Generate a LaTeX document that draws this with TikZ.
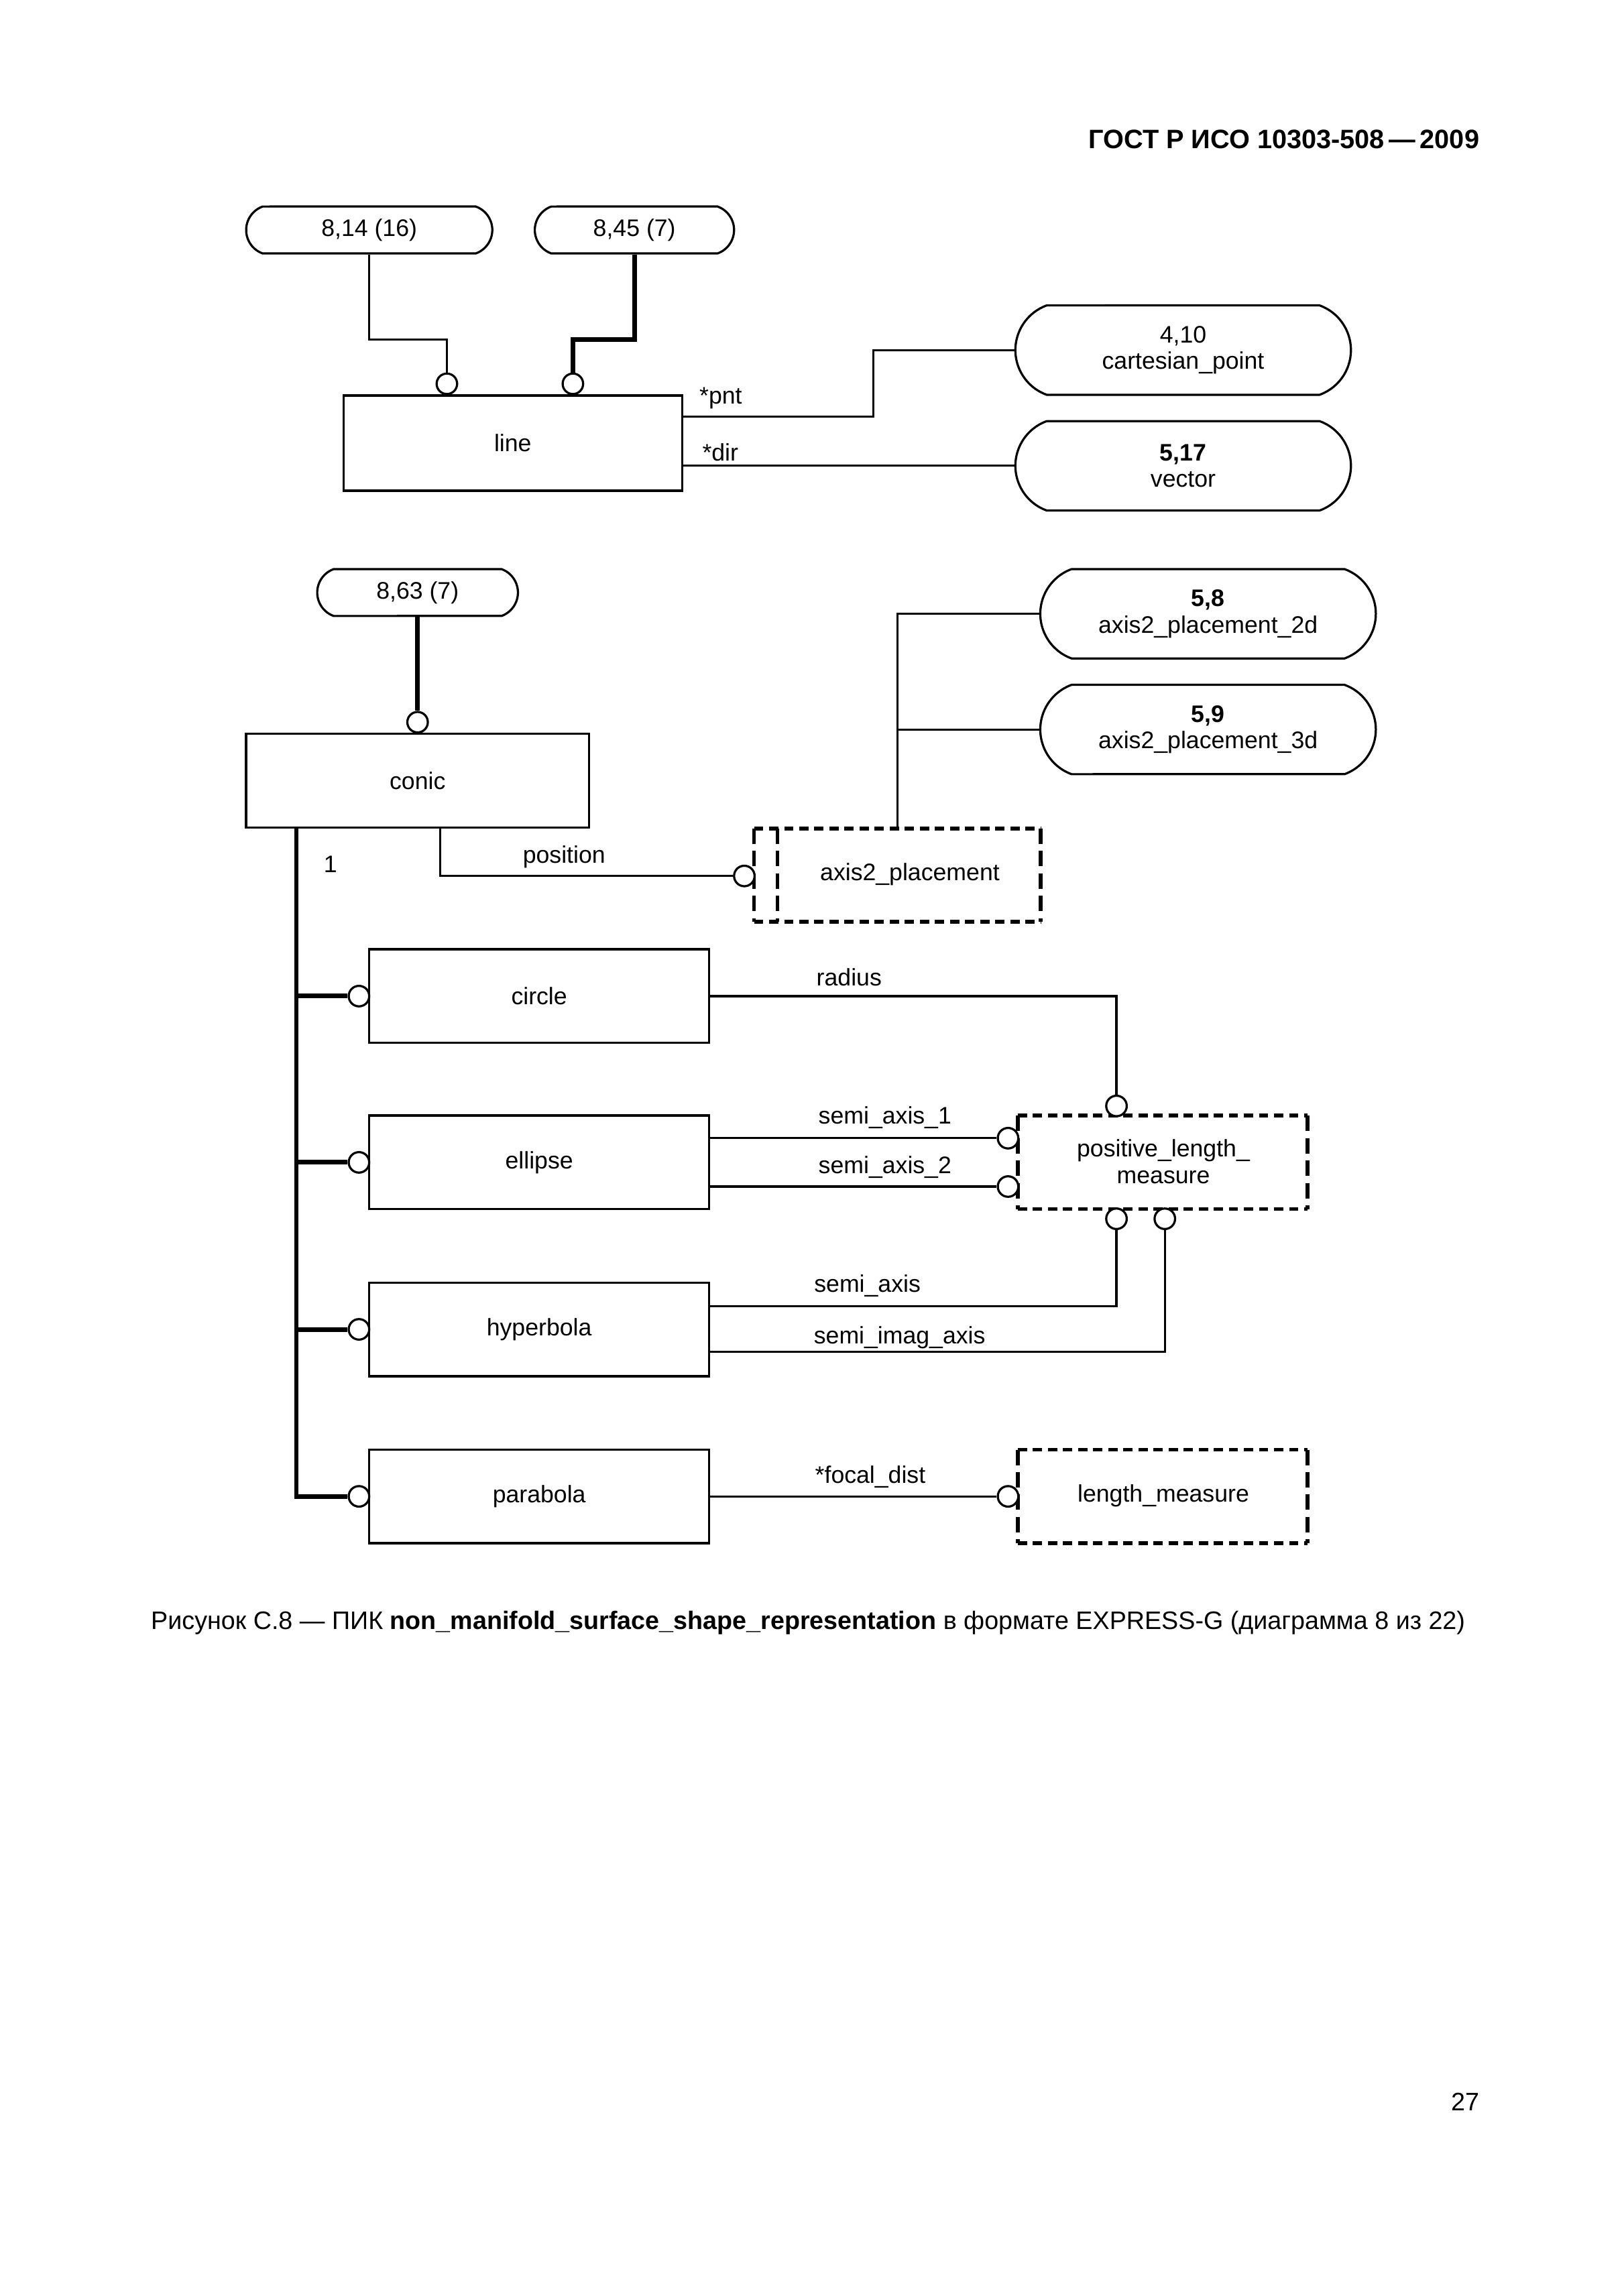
\documentclass[tikz,border=0pt]{standalone}
\usepackage{fontspec}
\setmainfont{Liberation Sans}
\usetikzlibrary{shapes.misc,calc}
\def\pxu{0.18953mm}
\begin{document}
\begin{tikzpicture}[x=0.18953mm,y=-0.18953mm,
 every node/.style={font=\fontsize{8.8}{9.8}\selectfont, inner sep=0pt, align=center},
 thinl/.style={line width=0.28mm},
 thickl/.style={line width=0.6mm},
 ent/.style={draw, thinl, rectangle, minimum width=232*\pxu, minimum height=64*\pxu},
 pill/.style={draw, thinl, rounded rectangle, rounded rectangle arc length=140},
 oc/.style={draw, thinl, circle, fill=white, minimum size=14*\pxu},
 dbox/.style={rectangle, minimum width=197*\pxu, minimum height=63*\pxu},
 hd/.style={line width=0.5mm, dash pattern=on 1.2mm off 0.75mm},
 vd/.style={line width=0.5mm, dash pattern=on 2mm off 0.9mm},
 lbl/.style={},
 ptxt/.style={font=\fontsize{9.3}{11}\selectfont}
 ]
\useasboundingbox (0,0) rectangle (1108,1567.4);

% header, caption, page number
\node[ptxt, font=\bfseries\fontsize{9.8}{12}\selectfont, anchor=east] (hdr) at (1010,95) {ГОСТ Р ИСО 10303-508\,—\,2009};
\node[ptxt] (cap) at (551.5,1108) {Рисунок С.8 — ПИК \textbf{non\_manifold\_surface\_shape\_representation} в формате EXPRESS-G (диаграмма 8 из 22)};
\node[ptxt] (pg) at (1000,1435) {27};

% ---------- upper diagram ----------
\node[pill, minimum width=168*\pxu, minimum height=32*\pxu] (a814) at (252,157) {8,14 (16)};
\node[pill, minimum width=136*\pxu, minimum height=32*\pxu] (a845) at (433,157) {8,45 (7)};
\node[ent, minimum width=231*\pxu, minimum height=65*\pxu] (line) at (350,302.5) {line};
\node[pill, minimum width=229*\pxu, minimum height=61*\pxu] (cp) at (807.5,239) {4,10\\cartesian\_point};
\node[pill, minimum width=229*\pxu, minimum height=61*\pxu] (vec) at (807.5,318) {{\bfseries 5,17}\\vector};

\node[oc] (o1) at (305,262) {};
\node[oc] (o2) at (391,262) {};
\draw[thinl] (a814.south) -- ++(0,58) -| (o1.north);
\draw[thickl] (a845.south) -- ++(0,58) -| (o2.north);
\draw[thinl] ($(line.north east)+(0,15)$) -- ++(130,0) |- (cp.west);
\draw[thinl] (line.east |- vec.west) -- (vec.west);
\node[lbl, anchor=west] (lpnt) at (477,272) {*pnt};
\node[lbl, anchor=west] (ldir) at (479,309) {*dir};

% ---------- lower diagram ----------
\node[pill, minimum width=137*\pxu, minimum height=32*\pxu] (a863) at (285,404.5) {8,63 (7)};
\node[ent, minimum width=234*\pxu, minimum height=64*\pxu] (conic) at (285,533) {conic};
\node[oc] (o3) at (285,493) {};
\draw[thickl] (a863.south) -- (o3.north);

\node[pill, minimum width=229*\pxu, minimum height=61*\pxu] (a2d) at (824.5,419) {{\bfseries 5,8}\\axis2\_placement\_2d};
\node[pill, minimum width=229*\pxu, minimum height=61*\pxu] (a3d) at (824.5,498) {{\bfseries 5,9}\\axis2\_placement\_3d};

\node[dbox, minimum width=195*\pxu] (a2p) at (612.5,597.5) {};
\node (a2pt) at (621,597) {axis2\_placement};
\draw[hd] (a2p.north west) -- (a2p.north east);
\draw[hd] (a2p.south west) -- (a2p.south east);
\draw[vd] (a2p.north west) -- (a2p.south west);
\draw[vd] (a2p.north east) -- (a2p.south east);
\draw[vd] ($(a2p.north west)+(16,0)$) -- ($(a2p.south west)+(16,0)$);

\draw[thinl] (a2p.north) |- (a2d.west);
\draw[thinl] (a2p.north |- a3d.west) -- (a3d.west);

\node[oc] (o4) at (508,598) {};
\draw[thinl] ($(conic.south west)+(133,0)$) |- (o4.west);
\node[lbl] (lpos) at (385,585) {position};
\node[lbl] (l1) at (225.5,590) {1};

\node[ent] (circ) at (368,680) {circle};
\node[ent] (ell) at (368,793.5) {ellipse};
\node[ent] (hyp) at (368,907.5) {hyperbola};
\node[ent] (par) at (368,1021.5) {parabola};

\node[oc] (o5) at (245,680) {};
\node[oc] (o6) at (245,793.5) {};
\node[oc] (o7) at (245,907.5) {};
\node[oc] (o8) at (245,1021.5) {};
\coordinate (tr) at ($(conic.south west)+(35,0)$);
\draw[thickl] (tr) |- (o8.west);
\draw[thickl] (tr |- o5.west) -- (o5.west);
\draw[thickl] (tr |- o6.west) -- (o6.west);
\draw[thickl] (tr |- o7.west) -- (o7.west);

% positive_length_measure
\node[dbox] (plm) at (793.5,793.5) {};
\node (plmt) at (794,793) {positive\_length\_\\measure};
\draw[hd] (plm.north west) -- (plm.north east);
\draw[hd] (plm.south west) -- (plm.south east);
\draw[vd] (plm.north west) -- (plm.south west);
\draw[vd] (plm.north east) -- (plm.south east);

\node[oc] (o9) at (762,755) {};
\node[oc] (o10) at (688,777) {};
\node[oc] (o11) at (688,810) {};
\node[oc] (o12) at (762,832) {};
\node[oc] (o13) at (795,832) {};

\draw[thinl] (circ.east) -| (o9.north);
\draw[thinl] (ell.east |- o10.west) -- (o10.west);
\draw[thinl] (ell.east |- o11.west) -- (o11.west);
\draw[thinl] ($(hyp.north east)+(0,17)$) -| (o12.south);
\draw[thinl] ($(hyp.north east)+(0,48)$) -| (o13.south);

\node[lbl] (lrad) at (579.5,667) {radius};
\node[lbl] (ls1) at (604,763) {semi\_axis\_1};
\node[lbl] (ls2) at (604,797) {semi\_axis\_2};
\node[lbl] (lsa) at (592,878) {semi\_axis};
\node[lbl] (lsi) at (614,913) {semi\_imag\_axis};

% length_measure
\node[dbox] (lm) at (793.5,1021.5) {};
\node (lmt) at (794,1021) {length\_measure};
\draw[hd] (lm.north west) -- (lm.north east);
\draw[hd] (lm.south west) -- (lm.south east);
\draw[vd] (lm.north west) -- (lm.south west);
\draw[vd] (lm.north east) -- (lm.south east);

\node[oc] (o14) at (688,1021.5) {};
\draw[thinl] (par.east) -- (o14.west);
\node[lbl] (lfd) at (594,1008) {*focal\_dist};

\end{tikzpicture}
\end{document}
